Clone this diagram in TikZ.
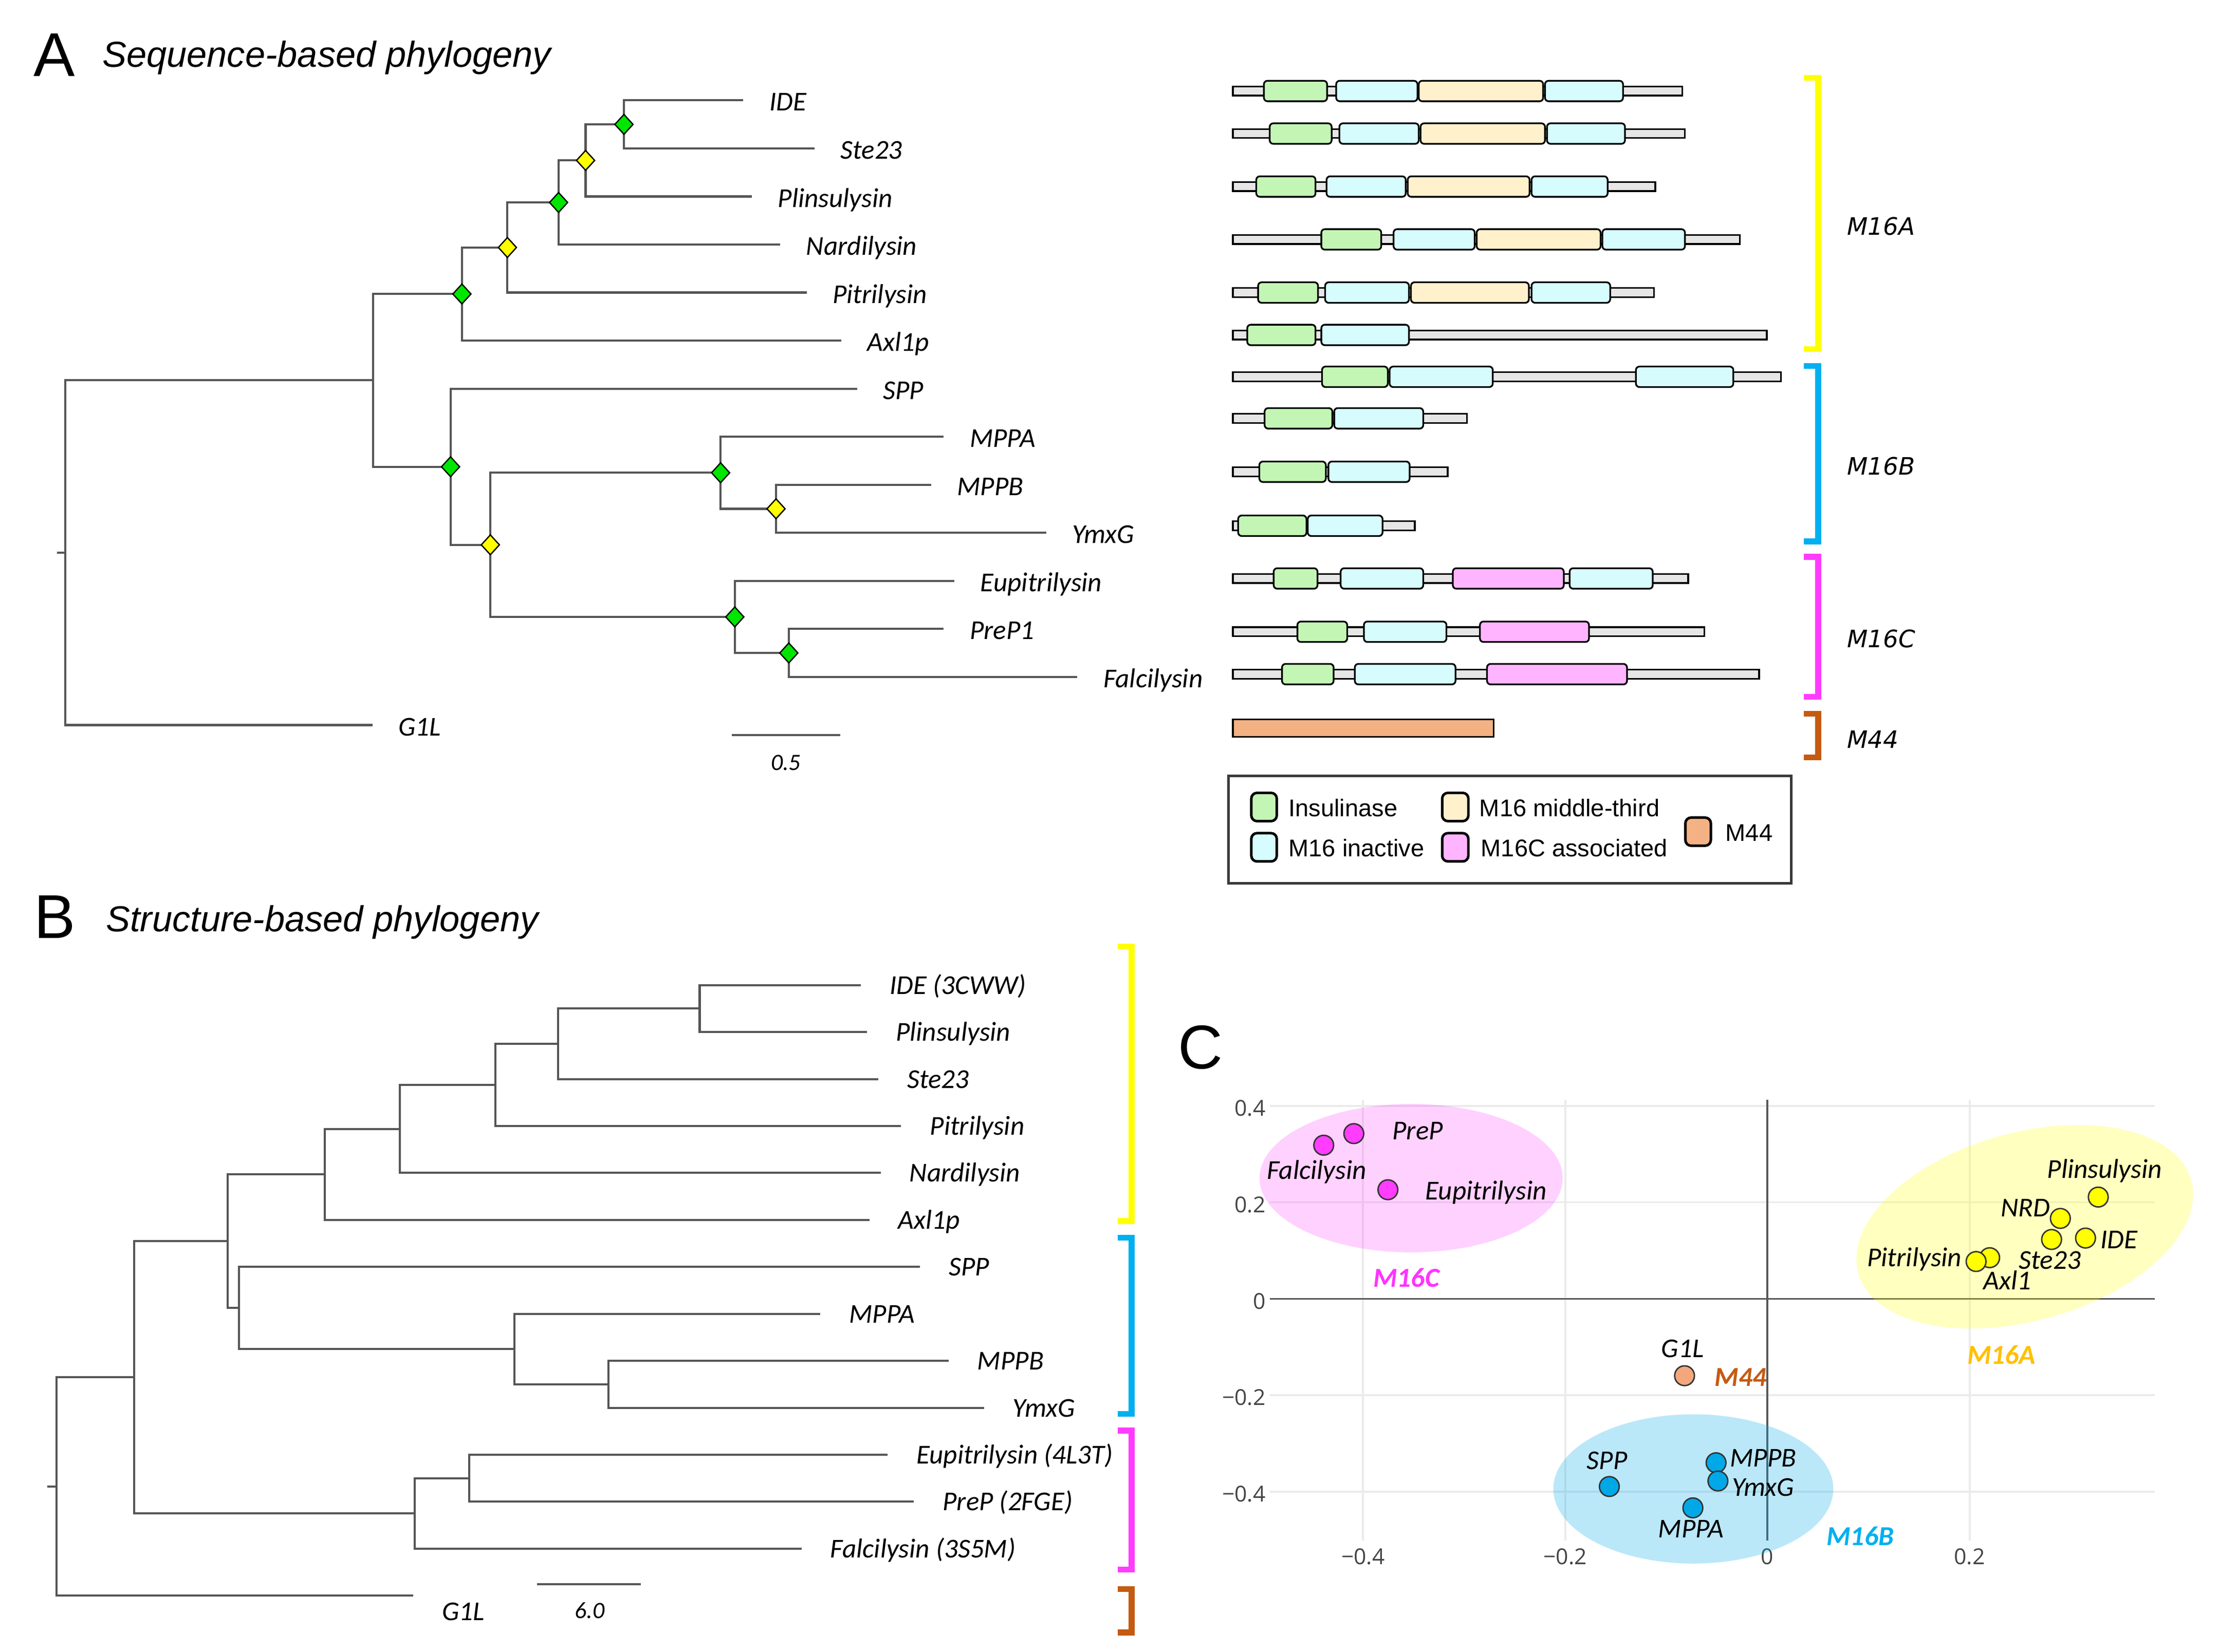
\documentclass[tikz,border=0pt]{standalone}
\usepackage{fontspec}
\setmainfont{Liberation Sans}
\newfontfamily\calibri{Carlito}
\newfontfamily\dejavu{DejaVu Sans}
\newfontfamily\opensans{Open Sans}
\usetikzlibrary{shapes.geometric}
\definecolor{treegray}{HTML}{555555}
\definecolor{dgreen}{HTML}{C3F6B4}
\definecolor{dcyan}{HTML}{D6FCFD}
\definecolor{dbeige}{HTML}{FFF1CC}
\definecolor{dpink}{HTML}{FFB4FF}
\definecolor{dorange}{HTML}{F4B183}
\definecolor{dline}{HTML}{E6E6E6}
\definecolor{nodegreen}{HTML}{00E600}
\definecolor{nodeyellow}{HTML}{FFFF00}
\definecolor{bryellow}{HTML}{FFFF00}
\definecolor{brblue}{HTML}{00B0F0}
\definecolor{brmagenta}{HTML}{FF3CFF}
\definecolor{brorange}{HTML}{C55A11}
\definecolor{ptyellow}{HTML}{FFFF00}
\definecolor{ptmagenta}{HTML}{FF3CFF}
\definecolor{ptblue}{HTML}{00A8E8}
\definecolor{ptorange}{HTML}{F4A77C}
\definecolor{lblgold}{HTML}{FFC000}
\definecolor{lblmag}{HTML}{FF33FF}
\definecolor{lblblue}{HTML}{00B0F0}
\definecolor{gridgray}{HTML}{EBEBEB}
\definecolor{axisgray}{HTML}{595959}
\definecolor{ticktext}{HTML}{444444}
\definecolor{legendgray}{HTML}{3A3A3A}
\definecolor{ellmag}{HTML}{FF00FF}
\definecolor{ellyel}{HTML}{FFFF00}
\definecolor{ellblue}{HTML}{00AAEB}

\newcommand{\protbar}[3]{\draw[protline] (#1,#3-3.2) rectangle (#2,#3+3.2);}
\newcommand{\protdom}[4]{\draw[protdomain, fill=#4] (#1,#3-7.25) rectangle (#2,#3+7.25);}

\tikzset{
  branch/.style={draw=treegray, line width=0.75pt},
  gdia/.style={diamond, draw=black, line width=0.45pt, fill=nodegreen, minimum width=6.6pt, minimum height=7.2pt, inner sep=0pt},
  ydia/.style={gdia, fill=nodeyellow},
  leaflab/.style={anchor=base west, xshift=10pt, yshift=-3.2pt, inner sep=0pt, font=\calibri\itshape\fontsize{9.65}{11}\selectfont},
  leaflabA/.style={leaflab, xshift=-1pt, yshift=-0.55pt},
  scalelab/.style={anchor=base, inner sep=0pt, font=\calibri\itshape\fontsize{8.3}{10}\selectfont},
  protline/.style={draw=black, line width=0.6pt, fill=dline},
  protdomain/.style={draw=black, line width=0.6pt, rounded corners=1.25pt},
  bracket/.style={line width=2.1pt, line join=miter},
  brlab/.style={anchor=west, inner sep=0pt, font=\dejavu\itshape\fontsize{8.5}{10}\selectfont},
  leglab/.style={anchor=base west, inner sep=0pt, font=\fontsize{8.55}{10}\selectfont},
  swatch/.style={draw=black, line width=0.9pt, rounded corners=2pt},
  panelletter/.style={anchor=base west, inner sep=0pt, font=\fontsize{21.9}{24}\selectfont},
  paneltitle/.style={anchor=base west, inner sep=0pt, font=\itshape\fontsize{12.8}{15}\selectfont},
  gridl/.style={draw=gridgray, line width=0.7pt},
  axisl/.style={draw=axisgray, line width=0.7pt},
  tickl/.style={inner sep=0pt, text=ticktext, font=\opensans\fontsize{7.75}{9}\selectfont},
  pt/.style={circle, draw=black!80, line width=0.5pt, minimum size=7pt, inner sep=0pt},
  clab/.style={anchor=base, inner sep=0pt, font=\calibri\itshape\fontsize{9.65}{11}\selectfont},
  glab/.style={anchor=base, inner sep=0pt, font=\calibri\bfseries\itshape\fontsize{9.7}{11}\selectfont},
}

\begin{document}
\begin{tikzpicture}[x=0.5pt, y=-0.5pt]
\useasboundingbox (0,0) rectangle (1568,1168.6);
\fill[white] (0,0) rectangle (1568,1168.6);

% ================= Panel A titles =================
\node[panelletter] (letA) at (23.3,54) {A};
\node[paneltitle] (titA) at (72,47.3) {Sequence-based phylogeny};

% ================= Panel A tree =================
\begin{scope}[xscale=1.005]
\coordinate (AR) at (46,391);
\coordinate (ARs) at (40,391);
\coordinate (A1) at (262.5,269.1);
\coordinate (A2) at (325,208);
\coordinate (A4) at (357,175.1);
\coordinate (A5) at (393,143.25);
\coordinate (A6) at (412,113.5);
\coordinate (A7) at (439,88);
\coordinate (A3) at (317,330.25);
\coordinate (A8) at (345,385.5);
\coordinate (A9) at (507,334.5);
\coordinate (A11) at (546,360);
\coordinate (A10) at (517,436.5);
\coordinate (A12) at (555,462);

\coordinate (aIDE) at (523,71);
\coordinate (aSte) at (573,105);
\coordinate (aPlin) at (529,139);
\coordinate (aNard) at (549,173);
\coordinate (aPitr) at (567.5,207);
\coordinate (aAxl) at (592,241);
\coordinate (aSPP) at (603,275);
\coordinate (aMPPA) at (664,309);
\coordinate (aMPPB) at (655,343);
\coordinate (aYmxG) at (736,377);
\coordinate (aEupi) at (671.5,411);
\coordinate (aPreP) at (664,445);
\coordinate (aFalc) at (758,479);
\coordinate (aG1L) at (262,513);

\draw[branch] (ARs) -- (AR);
\draw[branch] (AR) |- (A1);
\draw[branch] (AR) |- (aG1L);
\draw[branch] (A1) |- (A2);
\draw[branch] (A1) |- (A3);
\draw[branch] (A2) |- (A4);
\draw[branch] (A2) |- (aAxl);
\draw[branch] (A4) |- (A5);
\draw[branch] (A4) |- (aPitr);
\draw[branch] (A5) |- (A6);
\draw[branch] (A5) |- (aNard);
\draw[branch] (A6) |- (A7);
\draw[branch] (A6) |- (aPlin);
\draw[branch] (A7) |- (aIDE);
\draw[branch] (A7) |- (aSte);
\draw[branch] (A3) |- (aSPP);
\draw[branch] (A3) |- (A8);
\draw[branch] (A8) |- (A9);
\draw[branch] (A8) |- (A10);
\draw[branch] (A9) |- (aMPPA);
\draw[branch] (A9) |- (A11);
\draw[branch] (A11) |- (aMPPB);
\draw[branch] (A11) |- (aYmxG);
\draw[branch] (A10) |- (aEupi);
\draw[branch] (A10) |- (A12);
\draw[branch] (A12) |- (aPreP);
\draw[branch] (A12) |- (aFalc);

\node[gdia] (dA2) at (A2) {};
\node[ydia] (dA4) at (A4) {};
\node[gdia] (dA5) at (A5) {};
\node[ydia] (dA6) at (A6) {};
\node[gdia] (dA7) at (A7) {};
\node[gdia] (dA3) at (A3) {};
\node[ydia] (dA8) at (A8) {};
\node[gdia] (dA9) at (A9) {};
\node[ydia] (dA11) at (A11) {};
\node[gdia] (dA10) at (A10) {};
\node[gdia] (dA12) at (A12) {};

\node[leaflabA] (laIDE) at (aIDE) {IDE};
\node[leaflabA] (laSte) at (aSte) {Ste23};
\node[leaflabA] (laPlin) at (aPlin) {Plinsulysin};
\node[leaflabA] (laNard) at (aNard) {Nardilysin};
\node[leaflabA] (laPitr) at (aPitr) {Pitrilysin};
\node[leaflabA] (laAxl) at (aAxl) {Axl1p};
\node[leaflabA] (laSPP) at (aSPP) {SPP};
\node[leaflabA] (laMPPA) at (aMPPA) {MPPA};
\node[leaflabA] (laMPPB) at (aMPPB) {MPPB};
\node[leaflabA] (laYmxG) at (aYmxG) {YmxG};
\node[leaflabA] (laEupi) at (aEupi) {Eupitrilysin};
\node[leaflabA] (laPreP) at (aPreP) {PreP1};
\node[leaflabA] (laFalc) at (aFalc) {Falcilysin};
\node[leaflabA] (laG1L) at (aG1L) {G1L};

\coordinate (sbA1) at (515,520);
\coordinate (sbA2) at (591,520);
\draw[branch] (sbA1) -- (sbA2);
\node[scalelab] (sbAl) at (553,545) {0.5};
\end{scope}

% ================= Panel A domains =================
% row 1 IDE
\protbar{872}{1189.9}{64.4}
\protdom{893.9}{938.6}{64.4}{dgreen}
\protdom{945.0}{1002.5}{64.4}{dcyan}
\protdom{1003.4}{1091.4}{64.4}{dbeige}
\protdom{1092.7}{1147.9}{64.4}{dcyan}
% row 2 Ste23
\protbar{872}{1191.7}{94.5}
\protdom{898.0}{941.8}{94.5}{dgreen}
\protdom{947.3}{1003.4}{94.5}{dcyan}
\protdom{1004.7}{1092.7}{94.5}{dbeige}
\protdom{1094.1}{1149.3}{94.5}{dcyan}
% row 3 Plinsulysin
\protbar{872}{1170.7}{132}
\protdom{888.5}{930.4}{132}{dgreen}
\protdom{938.2}{994.2}{132}{dcyan}
\protdom{995.6}{1081.8}{132}{dbeige}
\protdom{1083.2}{1137.0}{132}{dcyan}
% row 4 Nardilysin
\protbar{872}{1230.5}{169.4}
\protdom{934.5}{976.9}{169.4}{dgreen}
\protdom{985.6}{1043.0}{169.4}{dcyan}
\protdom{1044.4}{1132.0}{169.4}{dbeige}
\protdom{1133.3}{1191.7}{169.4}{dcyan}
% row 5 Pitrilysin
\protbar{872}{1169.8}{207}
\protdom{889.8}{932.2}{207}{dgreen}
\protdom{937.2}{996.5}{207}{dcyan}
\protdom{997.9}{1081.3}{207}{dbeige}
\protdom{1083.2}{1138.8}{207}{dcyan}
% row 6 Axl1p
\protbar{872}{1249.6}{237}
\protdom{882.1}{930.4}{237}{dgreen}
\protdom{934.5}{996.5}{237}{dcyan}
% row 7 SPP
\protbar{872}{1259.6}{266.6}
\protdom{935.0}{981.5}{266.6}{dgreen}
\protdom{982.8}{1055.8}{266.6}{dcyan}
\protdom{1157.0}{1225.9}{266.6}{dcyan}
% row 8 MPPA
\protbar{872}{1037.6}{296}
\protdom{894.4}{942.3}{296}{dgreen}
\protdom{943.6}{1006.6}{296}{dcyan}
% row 9 MPPB
\protbar{872}{1023.9}{333.8}
\protdom{890.7}{937.7}{333.8}{dgreen}
\protdom{939.5}{997.0}{333.8}{dcyan}
% row 10 YmxG
\protbar{872}{1000.6}{372}
\protdom{875.7}{924.0}{372}{dgreen}
\protdom{924.9}{977.8}{372}{dcyan}
% row 11 Eupitrilysin
\protbar{872}{1194}{409.3}
\protdom{900.8}{931.8}{409.3}{dgreen}
\protdom{948.2}{1006.6}{409.3}{dcyan}
\protdom{1027.5}{1106.0}{409.3}{dpink}
\protdom{1110.1}{1168.9}{409.3}{dcyan}
% row 12 PreP1
\protbar{872}{1205.4}{447}
\protdom{917.6}{952.8}{447}{dgreen}
\protdom{964.6}{1023.0}{447}{dcyan}
\protdom{1046.7}{1123.8}{447}{dpink}
% row 13 Falcilysin
\protbar{872}{1244.1}{477}
\protdom{906.7}{943.2}{477}{dgreen}
\protdom{958.2}{1029.4}{477}{dcyan}
\protdom{1051.7}{1150.7}{477}{dpink}
% row 14 G1L
\draw[draw=black, line width=0.6pt, fill=dorange] (872,509) rectangle (1056.3,521.5);

% ================= Panel A brackets =================
\draw[bracket, draw=bryellow] (1275.6,55) -- (1286,55) -- (1286,247) -- (1275.6,247);
\draw[bracket, draw=brblue] (1275.6,259) -- (1286,259) -- (1286,383) -- (1275.6,383);
\draw[bracket, draw=brmagenta] (1275.6,394) -- (1286,394) -- (1286,493) -- (1275.6,493);
\draw[bracket, draw=brorange] (1275.6,505) -- (1286,505) -- (1286,536) -- (1275.6,536);
\node[brlab] (bM16A) at (1306,160) {M16A};
\node[brlab] (bM16B) at (1306,330) {M16B};
\node[brlab] (bM16C) at (1306,452) {M16C};
\node[brlab] (bM44) at (1306,523) {M44};

% ================= Legend =================
\draw[draw=legendgray, line width=0.9pt] (869,549) rectangle (1267,625);
\draw[swatch, fill=dgreen] (885,561) rectangle (903,581);
\draw[swatch, fill=dcyan] (885,589.5) rectangle (903,609.5);
\draw[swatch, fill=dbeige] (1020,561) rectangle (1038.5,581);
\draw[swatch, fill=dpink] (1020,589.5) rectangle (1038.5,609.5);
\draw[swatch, fill=dorange] (1192,578.5) rectangle (1210,598.4);
\node[leglab] (lgIns) at (911,577.6) {Insulinase};
\node[leglab] (lgIna) at (911,606) {M16 inactive};
\node[leglab] (lgMid) at (1046,577.6) {M16 middle-third};
\node[leglab] (lgAss) at (1047,606) {M16C associated};
\node[leglab] (lgM44) at (1220,595) {M44};

% ================= Panel B titles =================
\node[panelletter] (letB) at (23.7,664) {B};
\node[paneltitle] (titB) at (74.5,659) {Structure-based phylogeny};

% ================= Panel B tree =================
\begin{scope}[xscale=1.005]
\coordinate (B0) at (39.8,1051.75);
\coordinate (B0s) at (33.4,1051.75);
\coordinate (B1) at (94.4,974.5);
\coordinate (B2) at (160.2,878.2);
\coordinate (B4) at (228.6,831);
\coordinate (B6) at (281.2,798.75);
\coordinate (B7) at (348.5,767.6);
\coordinate (B8) at (392.6,738.55);
\coordinate (B9) at (492.3,713.6);
\coordinate (B5) at (168.2,925.45);
\coordinate (B10) at (361.8,954.5);
\coordinate (B11) at (428.1,979.45);
\coordinate (B3) at (291.8,1070.85);
\coordinate (B12) at (330,1045.9);

\coordinate (bIDE) at (605.8,697);
\coordinate (bPlin) at (610,730.2);
\coordinate (bSte) at (618,763.5);
\coordinate (bPitr) at (634,796.7);
\coordinate (bNard) at (619.6,829.9);
\coordinate (bAxl) at (611.7,863.2);
\coordinate (bSPP) at (647.2,896.4);
\coordinate (bMPPA) at (577.2,929.6);
\coordinate (bMPPB) at (667.4,962.8);
\coordinate (bYmxG) at (692.3,996.1);
\coordinate (bEupi) at (624.4,1029.3);
\coordinate (bPreP) at (643,1062.5);
\coordinate (bFalc) at (563.9,1095.8);
\coordinate (bG1L) at (290.7,1129);

\draw[branch] (B0s) -- (B0);
\draw[branch] (B0) |- (B1);
\draw[branch] (B0) |- (bG1L);
\draw[branch] (B1) |- (B2);
\draw[branch] (B1) |- (B3);
\draw[branch] (B2) |- (B4);
\draw[branch] (B2) |- (B5);
\draw[branch] (B4) |- (B6);
\draw[branch] (B4) |- (bAxl);
\draw[branch] (B6) |- (B7);
\draw[branch] (B6) |- (bNard);
\draw[branch] (B7) |- (B8);
\draw[branch] (B7) |- (bPitr);
\draw[branch] (B8) |- (B9);
\draw[branch] (B8) |- (bSte);
\draw[branch] (B9) |- (bIDE);
\draw[branch] (B9) |- (bPlin);
\draw[branch] (B5) |- (bSPP);
\draw[branch] (B5) |- (B10);
\draw[branch] (B10) |- (bMPPA);
\draw[branch] (B10) |- (B11);
\draw[branch] (B11) |- (bMPPB);
\draw[branch] (B11) |- (bYmxG);
\draw[branch] (B3) |- (B12);
\draw[branch] (B3) |- (bFalc);
\draw[branch] (B12) |- (bEupi);
\draw[branch] (B12) |- (bPreP);

\node[leaflab] (lbIDE) at (bIDE) {IDE (3CWW)};
\node[leaflab] (lbPlin) at (bPlin) {Plinsulysin};
\node[leaflab] (lbSte) at (bSte) {Ste23};
\node[leaflab] (lbPitr) at (bPitr) {Pitrilysin};
\node[leaflab] (lbNard) at (bNard) {Nardilysin};
\node[leaflab] (lbAxl) at (bAxl) {Axl1p};
\node[leaflab] (lbSPP) at (bSPP) {SPP};
\node[leaflab] (lbMPPA) at (bMPPA) {MPPA};
\node[leaflab] (lbMPPB) at (bMPPB) {MPPB};
\node[leaflab] (lbYmxG) at (bYmxG) {YmxG};
\node[leaflab] (lbEupi) at (bEupi) {Eupitrilysin (4L3T)};
\node[leaflab] (lbPreP) at (bPreP) {PreP (2FGE)};
\node[leaflab] (lbFalc) at (bFalc) {Falcilysin (3S5M)};
\node[leaflab, yshift=-5.5pt] (lbG1L) at (bG1L) {G1L};

\coordinate (sbB1) at (377.7,1121);
\coordinate (sbB2) at (451,1121);
\draw[branch] (sbB1) -- (sbB2);
\node[scalelab] (sbBl) at (415,1145) {6.0};

% ================= Panel B brackets =================
\draw[bracket, draw=bryellow] (786.7,669.7) -- (796.3,669.7) -- (796.3,864) -- (786.7,864);
\draw[bracket, draw=brblue] (786.7,875.7) -- (796.3,875.7) -- (796.3,1000.5) -- (786.7,1000.5);
\draw[bracket, draw=brmagenta] (786.7,1012.3) -- (796.3,1012.3) -- (796.3,1110.5) -- (786.7,1110.5);
\draw[bracket, draw=brorange] (786.7,1124.3) -- (796.3,1124.3) -- (796.3,1155) -- (786.7,1155);
\end{scope}

% ================= Panel C =================
\node[panelletter] (letC) at (833,756) {C};

% grid
\draw[gridl] (964,778) -- (964,1090);
\draw[gridl] (1107,778) -- (1107,1090);
\draw[gridl] (1393,778) -- (1393,1090);
\draw[gridl] (898,782.4) -- (1524,782.4);
\draw[gridl] (898,850.7) -- (1524,850.7);
\draw[gridl] (898,987.3) -- (1524,987.3);
\draw[gridl] (898,1055.6) -- (1524,1055.6);
% axes
\draw[axisl] (898,919) -- (1524,919);
\draw[axisl] (1250,778) -- (1250,1090);

% tick labels
\node[tickl, anchor=east] (ty1) at (895.5,784) {0.4};
\node[tickl, anchor=east] (ty2) at (895.5,852.3) {0.2};
\node[tickl, anchor=east] (ty3) at (895.5,920.6) {0};
\node[tickl, anchor=east] (ty4) at (895.5,988.9) {−0.2};
\node[tickl, anchor=east] (ty5) at (895.5,1057.2) {−0.4};
\node[tickl] (tx1) at (964,1101.3) {−0.4};
\node[tickl] (tx2) at (1107,1101.3) {−0.2};
\node[tickl] (tx3) at (1250,1101.3) {0};
\node[tickl] (tx4) at (1393,1101.3) {0.2};

% ellipses
\fill[ellmag, fill opacity=0.18] (998,833.6) ellipse [x radius=107.2, y radius=52.5];
\begin{scope}[shift={(1432,868)}, rotate=15.6]
\fill[ellyel, fill opacity=0.25] (0,0) ellipse [x radius=122.2, y radius=66.5];
\end{scope}
\fill[ellblue, fill opacity=0.27] (1197.6,1053.5) ellipse [x radius=99, y radius=52.8];

% points
\node[pt, fill=ptmagenta] (pFalc) at (936.2,810.3) {};
\node[pt, fill=ptmagenta] (pPreP) at (957.5,802.1) {};
\node[pt, fill=ptmagenta] (pEupi) at (981.6,841.8) {};
\node[pt, fill=ptyellow] (pPlin) at (1484,847) {};
\node[pt, fill=ptyellow] (pNRD) at (1457.2,862.1) {};
\node[pt, fill=ptyellow] (pSte) at (1451,877) {};
\node[pt, fill=ptyellow] (pIDE) at (1475,876) {};
\node[pt, fill=ptyellow] (pAxl) at (1407.2,889.9) {};
\node[pt, fill=ptyellow] (pPitr) at (1397.6,892.6) {};
\node[pt, fill=ptorange] (pG1L) at (1191.4,973.4) {};
\node[pt, fill=ptblue] (pSPP) at (1138.2,1051.8) {};
\node[pt, fill=ptblue] (pMPPB) at (1213.7,1035) {};
\node[pt, fill=ptblue] (pYmxG) at (1215,1047.9) {};
\node[pt, fill=ptblue] (pMPPA) at (1197.3,1066.9) {};

% point labels
\node[clab] (cPreP) at (1002.7,806.5) {PreP};
\node[clab] (cFalc) at (931.2,834.2) {Falcilysin};
\node[clab] (cEupi) at (1051,848.7) {Eupitrilysin};
\node[clab] (cPlin) at (1488.5,833.6) {Plinsulysin};
\node[clab] (cNRD) at (1432.6,860.7) {NRD};
\node[clab] (cIDE) at (1498.6,883.5) {IDE};
\node[clab] (cSte) at (1449.8,898) {Ste23};
\node[clab] (cPitr) at (1354,896) {Pitrilysin};
\node[clab] (cAxl) at (1419.6,912.4) {Axl1};
\node[clab] (cG1L) at (1190,960.3) {G1L};
\node[clab] (cSPP) at (1136.7,1039.8) {SPP};
\node[clab] (cMPPB) at (1247,1038) {MPPB};
\node[clab] (cYmxG) at (1247,1058.5) {YmxG};
\node[clab] (cMPPA) at (1196,1088) {MPPA};

% group labels
\node[glab, text=lblmag] (gM16C) at (994.6,910.7) {M16C};
\node[glab, text=lblgold] (gM16A) at (1415.6,965) {M16A};
\node[glab, text=brorange] (gM44) at (1231,980.7) {M44};
\node[glab, text=lblblue] (gM16B) at (1315.6,1093.4) {M16B};

\end{tikzpicture}
\end{document}
